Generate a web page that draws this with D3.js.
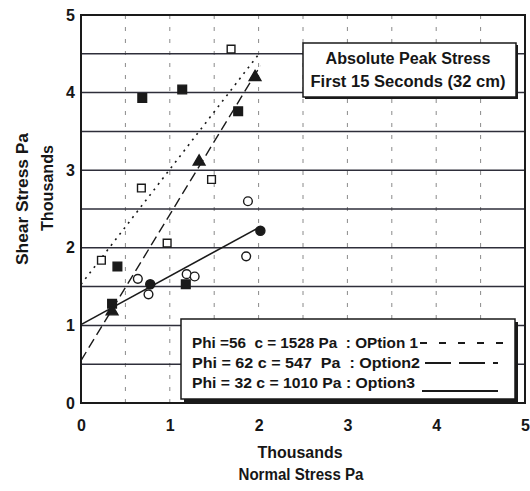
<!DOCTYPE html>
<html>
<head>
<meta charset="utf-8">
<script src="https://cdn.jsdelivr.net/npm/d3@7"></script>
<style>
  html, body { margin: 0; padding: 0; background: #ffffff; }
  svg { display: block; }
  text { font-family: "Liberation Sans", Arial, Helvetica, sans-serif; fill: #161616; }
</style>
</head>
<body>
<svg id="chart" width="530" height="491"></svg>
<script>
// ---- data (stresses in thousands of Pa) ----
const xTickValues = [0, 1, 2, 3, 4, 5];
const yTickValues = [0, 1, 2, 3, 4, 5];
const gridSteps = [0.5, 1, 1.5, 2, 2.5, 3, 3.5, 4, 4.5];

// measured points: [normal stress, shear stress]
const filledSquares = [[0.41, 1.76], [0.35, 1.28], [0.69, 3.93], [1.14, 4.04], [1.77, 3.76], [1.18, 1.53]];
const openSquares   = [[0.23, 1.84], [0.97, 2.06], [0.68, 2.77], [1.47, 2.88], [1.69, 4.56]];
const filledTris    = [[0.35, 1.18], [1.33, 3.11], [1.96, 4.20]];
const filledCircles = [[0.78, 1.53], [2.02, 2.22]];
const openCircles   = [[0.64, 1.60], [0.76, 1.40], [1.19, 1.66], [1.28, 1.63], [1.86, 1.89], [1.88, 2.60]];

// Mohr-Coulomb envelopes: tau = c + sigma * tan(phi)
const optionNames = ["Option 1", "Option 2", "Option 3"];
const optionPhi   = [56, 62, 32];       // degrees
const optionC     = [1528, 547, 1010];  // Pa
const fitRange    = [0, 2.02];          // thousands of Pa

const legendLabels = [
  "Phi =56  c = 1528 Pa  : OPtion 1",
  "Phi = 62 c = 547  Pa  : Option2",
  "Phi = 32 c = 1010 Pa : Option3"
];
const titleLines = ["Absolute Peak Stress", "First 15 Seconds (32 cm)"];

// ---- layout ----
const svg = d3.select("#chart");
const plot = { left: 81, right: 525, top: 15, bottom: 403 };
const x = d3.scaleLinear().domain([0, 5]).range([plot.left, plot.right]);
const y = d3.scaleLinear().domain([0, 5]).range([plot.bottom, plot.top]);
const ink = "#1a1a1a";

// vertical grid (light dashes)
svg.append("g").selectAll("line").data(gridSteps).join("line")
  .attr("x1", d => x(d)).attr("x2", d => x(d))
  .attr("y1", plot.top).attr("y2", plot.bottom)
  .attr("stroke", "#8a8a8a").attr("stroke-width", 1)
  .attr("stroke-dasharray", "4,8");

// horizontal grid (solid)
svg.append("g").selectAll("line").data(gridSteps).join("line")
  .attr("x1", plot.left).attr("x2", plot.right)
  .attr("y1", d => y(d)).attr("y2", d => y(d))
  .attr("stroke", "#2e2e3a").attr("stroke-width", 1.5);

// frame
svg.append("rect")
  .attr("x", plot.left).attr("y", plot.top)
  .attr("width", plot.right - plot.left).attr("height", plot.bottom - plot.top)
  .attr("fill", "none").attr("stroke", ink).attr("stroke-width", 2);

// axes (labels only, the frame carries the lines)
const xAxis = svg.append("g")
  .attr("transform", `translate(0,${plot.bottom})`)
  .call(d3.axisBottom(x).tickValues(xTickValues).tickSize(0).tickPadding(17).tickFormat(d3.format("d")));
const yAxis = svg.append("g")
  .attr("transform", `translate(${plot.left},0)`)
  .call(d3.axisLeft(y).tickValues(yTickValues).tickSize(0).tickPadding(6).tickFormat(d3.format("d")));
[xAxis, yAxis].forEach(g => {
  g.select(".domain").remove();
  g.selectAll("text")
    .style("font-family", '"Liberation Sans", Arial, sans-serif')
    .style("font-size", "16px").style("font-weight", "bold").attr("fill", ink);
});

// fitted envelope lines
const dashes = ["2,5", "10,5", null];
const widths = [1.6, 1.4, 1.6];
const lineGen = d3.line().x(d => x(d[0])).y(d => y(d[1]));
optionNames.forEach((name, i) => {
  const t = Math.tan(optionPhi[i] * Math.PI / 180);
  const c = optionC[i] / 1000;
  const pts = fitRange.map(s => [s, c + s * t]);
  svg.append("path").datum(pts)
    .attr("d", lineGen)
    .attr("fill", "none").attr("stroke", ink)
    .attr("stroke-width", widths[i])
    .attr("stroke-dasharray", dashes[i]);
});

// markers
const sym = (type, size) => d3.symbol().type(type).size(size)();
const markerSets = [
  { data: filledSquares, type: d3.symbolSquare,   size: 75, fill: ink,    stroke: ink },
  { data: openSquares,   type: d3.symbolSquare,   size: 60, fill: "#fff", stroke: ink },
  { data: filledTris,    type: d3.symbolTriangle, size: 60, fill: ink,    stroke: ink },
  { data: filledCircles, type: d3.symbolCircle,   size: 65, fill: ink,    stroke: ink },
  { data: openCircles,   type: d3.symbolCircle,   size: 60, fill: "#fff", stroke: ink }
];
markerSets.forEach(m => {
  svg.append("g").selectAll("path").data(m.data).join("path")
    .attr("d", sym(m.type, m.size))
    .attr("transform", d => `translate(${x(d[0])},${y(d[1])})`)
    .attr("fill", m.fill).attr("stroke", m.stroke).attr("stroke-width", 1.4);
});

// title box
const tb = { x: 303, y: 43, w: 213, h: 54 };
svg.append("rect").attr("x", tb.x + 2).attr("y", tb.y + 2).attr("width", tb.w).attr("height", tb.h)
  .attr("fill", ink);
svg.append("rect").attr("x", tb.x).attr("y", tb.y).attr("width", tb.w).attr("height", tb.h)
  .attr("fill", "#fff").attr("stroke", ink).attr("stroke-width", 1.5);
const titleWidths = [165, 195];
titleLines.forEach((t, i) => {
  svg.append("text")
    .attr("x", 408).attr("y", 64 + i * 23)
    .attr("text-anchor", "middle")
    .attr("textLength", titleWidths[i]).attr("lengthAdjust", "spacingAndGlyphs")
    .style("font-size", "16px").style("font-weight", "bold")
    .text(t);
});

// legend box
const lb = { x: 181, y: 319, w: 334, h: 80 };
svg.append("rect").attr("x", lb.x + 3).attr("y", lb.y + 3).attr("width", lb.w).attr("height", lb.h)
  .attr("fill", ink);
svg.append("rect").attr("x", lb.x).attr("y", lb.y).attr("width", lb.w).attr("height", lb.h)
  .attr("fill", "#fff").attr("stroke", ink).attr("stroke-width", 1.5);
const legendWidths = [226, 228, 223];
legendLabels.forEach((t, i) => {
  svg.append("text")
    .attr("x", 192).attr("y", 348 + i * 20)
    .attr("xml:space", "preserve")
    .style("white-space", "pre")
    .attr("textLength", legendWidths[i]).attr("lengthAdjust", "spacingAndGlyphs")
    .style("font-size", "15px").style("font-weight", "bold")
    .text(t);
});
// legend line samples
const sample = [
  { x1: 420, x2: 505, y: 343, dash: "7,12", w: 2 },
  { x1: 425, x2: 498, y: 363, dash: "26,8", w: 2 },
  { x1: 422, x2: 498, y: 391, dash: null,   w: 2 }
];
sample.forEach(s => {
  svg.append("line").attr("x1", s.x1).attr("x2", s.x2).attr("y1", s.y).attr("y2", s.y)
    .attr("stroke", ink).attr("stroke-width", s.w).attr("stroke-dasharray", s.dash);
});

// axis titles
svg.append("text").attr("x", 300).attr("y", 458).attr("text-anchor", "middle")
  .attr("textLength", 85).attr("lengthAdjust", "spacingAndGlyphs")
  .style("font-size", "16px").style("font-weight", "bold").text("Thousands");
svg.append("text").attr("x", 301).attr("y", 480).attr("text-anchor", "middle")
  .attr("textLength", 125).attr("lengthAdjust", "spacingAndGlyphs")
  .style("font-size", "16px").style("font-weight", "bold").text("Normal Stress Pa");
svg.append("text").attr("transform", "translate(28,199) rotate(-90)").attr("text-anchor", "middle")
  .attr("textLength", 132).attr("lengthAdjust", "spacingAndGlyphs")
  .style("font-size", "16px").style("font-weight", "bold").text("Shear Stress Pa");
svg.append("text").attr("transform", "translate(53,188) rotate(-90)").attr("text-anchor", "middle")
  .attr("textLength", 86).attr("lengthAdjust", "spacingAndGlyphs")
  .style("font-size", "16px").style("font-weight", "bold").text("Thousands");
</script>
</body>
</html>
